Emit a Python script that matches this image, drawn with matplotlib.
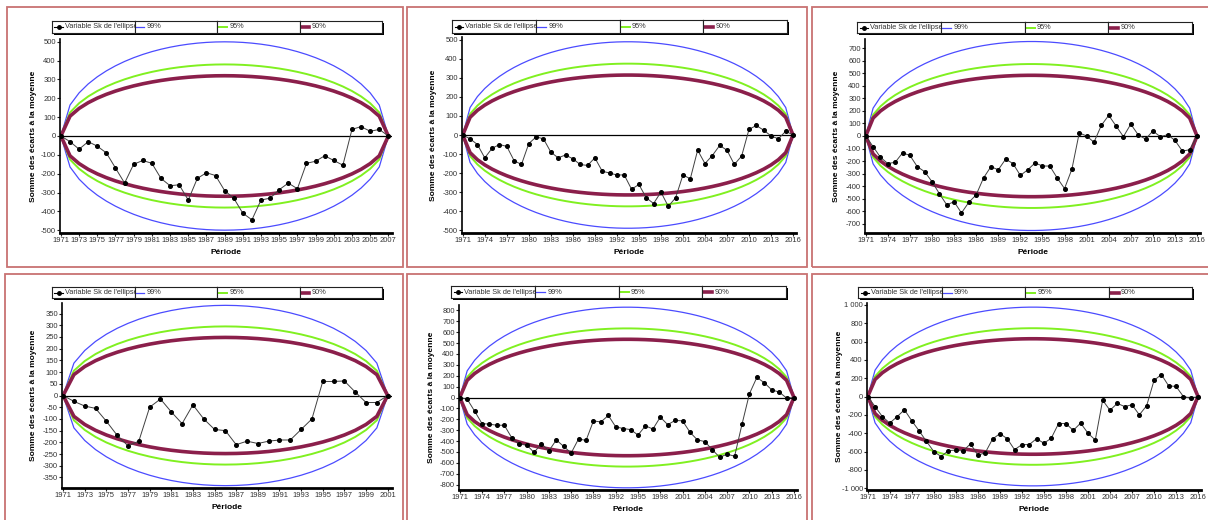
"""
Ellipses de Bois (somme des écarts à la moyenne) - 6 séries
"""
import numpy as np
import matplotlib.pyplot as plt
from matplotlib.patches import Rectangle
from matplotlib.lines import Line2D

plt.rcParams['font.family'] = ['Liberation Sans Narrow', 'Liberation Sans', 'DejaVu Sans']

W, H = 1208, 520

# ---------------- data ----------------
years_a = list(range(1971, 2008))
years_b = list(range(1971, 2017))
years_c = list(range(1971, 2002))

sk_1 = [0, -30, -70, -30, -54, -90, -170, -250, -150, -130, -145, -225, -264, -259, -340,
        -225, -195, -210, -290, -330, -410, -445, -340, -330, -285, -250, -280, -145, -134,
        -105, -130, -155, 35, 50, 25, 35, 0]
sk_2 = [0, -20, -50, -120, -70, -50, -60, -135, -155, -45, -10, -20, -90, -120, -105, -125,
        -155, -160, -120, -190, -200, -210, -210, -285, -260, -330, -360, -300, -375, -330,
        -210, -230, -80, -150, -108, -55, -80, -155, -110, 30, 50, 25, -5, -20, 20, 0]
sk_3 = [0, -85, -170, -220, -210, -135, -155, -245, -285, -365, -460, -550, -525, -615, -530,
        -470, -335, -245, -270, -185, -220, -315, -270, -215, -240, -240, -335, -420, -265,
        25, 0, -50, 85, 165, 80, -5, 95, 10, -25, 40, -5, 10, -35, -120, -110, 0]
sk_4 = [0, -25, -45, -55, -110, -170, -215, -195, -50, -15, -70, -120, -40, -100, -145, -150,
        -210, -195, -205, -195, -190, -190, -145, -100, 60, 60, 62, 15, -30, -30, 0]
sk_5 = [0, -15, -125, -240, -245, -255, -255, -370, -430, -435, -505, -425, -490, -390, -450,
        -510, -380, -395, -215, -225, -165, -270, -285, -295, -345, -260, -290, -180, -250,
        -210, -215, -320, -390, -405, -480, -550, -520, -540, -245, 35, 185, 135, 70, 50, -5, 0]
sk_6 = [0, -110, -220, -290, -220, -145, -265, -375, -490, -600, -655, -590, -585, -595, -515,
        -640, -615, -465, -405, -460, -580, -525, -525, -460, -510, -455, -295, -295, -370,
        -290, -400, -475, -40, -150, -75, -110, -90, -200, -100, 175, 240, 115, 110, 0, -20, 0]

# peak half-width of the ellipses: 99%, 95%, 90%
peaks_1 = [500, 380, 320]
peaks_2 = [490, 375, 315]
peaks_3 = [755, 575, 485]
peaks_4 = [385, 295, 248]
peaks_5 = [830, 635, 535]
peaks_6 = [975, 745, 630]

yticks_1 = list(range(-500, 501, 100))
yticks_3 = list(range(-700, 701, 100))
yticks_4 = list(range(-350, 351, 50))
yticks_5 = list(range(-800, 801, 100))
yticks_6 = list(range(-1000, 1001, 200))

level_labels = ['99%', '95%', '90%']
level_colors = ['#4b4bff', '#80f020', '#8b1f4b']
level_widths = [0.9, 1.4, 2.6]

BORDER = '#c87272'


def fr(x0, y0, x1, y1):
    """pixel box (top-left origin) -> figure fraction rect"""
    return [x0 / W, 1 - y1 / H, (x1 - x0) / W, (y1 - y0) / H]


def draw_legend(fig, box):
    x0, y0, x1, y1 = box
    # shadow
    fig.patches.append(Rectangle(((x0 + 2) / W, 1 - (y1 + 2) / H), (x1 - x0) / W, (y1 - y0) / H,
                                 transform=fig.transFigure, facecolor='black', edgecolor='none', zorder=1))
    w = (x1 - x0) / 4
    for i in range(4):
        cax = fig.add_axes(fr(x0 + i * w, y0, x0 + (i + 1) * w, y1))
        cax.set_zorder(5)
        cax.set_xlim(0, 1)
        cax.set_ylim(0, 1)
        cax.set_xticks([])
        cax.set_yticks([])
        for s in cax.spines.values():
            s.set_linewidth(0.8)
            s.set_color('#222222')
        if i == 0:
            cax.plot([0.03, 0.13], [0.5, 0.5], color='black', lw=0.8)
            cax.plot([0.08], [0.5], marker='o', ms=2.5, color='black')
            cax.text(0.16, 0.5, "Variable Sk de l'ellipse", fontsize=5.3, color='#333333',
                     va='center', ha='left', clip_on=True)
        else:
            j = i - 1
            cax.plot([0.02, 0.12], [0.5, 0.5], color=level_colors[j], lw=level_widths[j])
            cax.text(0.15, 0.5, level_labels[j], fontsize=5.3, color='#333333',
                     va='center', ha='left')


def draw_panel(fig, border, axbox, legbox, years, sk, peaks, yticks, ylim, xstep, ylab_off):
    bx0, by0, bx1, by1 = border
    fig.patches.append(Rectangle((bx0 / W, 1 - by1 / H), (bx1 - bx0) / W, (by1 - by0) / H,
                                 transform=fig.transFigure, fill=False, edgecolor=BORDER, lw=1.3))
    ax = fig.add_axes(fr(*axbox))
    yrs = np.array(years)
    n = len(years) - 1
    k = np.arange(n + 1)
    shape = np.sqrt(k * (n - k)) / (n / 2)
    for pk, c, lw in zip(peaks, level_colors, level_widths):
        ax.plot(yrs, pk * shape, color=c, lw=lw)
        ax.plot(yrs, -pk * shape, color=c, lw=lw)
    ax.axhline(0, color='black', lw=0.9, zorder=3)
    ax.plot(yrs, sk, color='#404040', lw=0.7, marker='o', ms=2.6,
            mfc='black', mec='black', zorder=4)

    ax.set_xlim(years[0] - 0.1, years[-1] + 0.4)
    ax.set_ylim(-ylim, ylim)
    ax.set_yticks(yticks)
    ax.set_yticklabels([f'{v:,}'.replace(',', ' ') for v in yticks])
    ax.set_xticks(years[::xstep])
    ax.set_xticklabels([str(y) for y in years[::xstep]])
    ax.tick_params(axis='both', labelsize=5.5, length=2, width=0.8, pad=1, colors='#222222',
                   labelcolor='#333333')
    ax.spines['top'].set_visible(False)
    ax.spines['right'].set_visible(False)
    ax.spines['left'].set_linewidth(1.2)
    ax.spines['bottom'].set_linewidth(2.0)
    ax.set_facecolor('white')

    axw = axbox[2] - axbox[0]
    axh = axbox[3] - axbox[1]
    ax.set_ylabel('Somme des écarts à la moyenne', fontsize=6, fontweight='bold')
    ax.yaxis.set_label_coords(-ylab_off / axw, 0.5)
    ax.set_xlabel('Période', fontsize=6, fontweight='bold')
    ax.xaxis.set_label_coords(0.5, -16 / axh)

    draw_legend(fig, legbox)
    return ax


fig = plt.figure(figsize=(W / 100, H / 100), dpi=100)

draw_panel(fig, (7, 7, 403, 267), (60, 39, 392, 233), (52, 21, 382, 33),
           years_a, sk_1, peaks_1, yticks_1, 515, 2, 23)
draw_panel(fig, (407, 7, 807, 267), (462, 37, 796, 233), (452, 20, 787, 33),
           years_b, sk_2, peaks_2, yticks_1, 515, 3, 25)
draw_panel(fig, (812, 7, 1215, 267), (865, 39, 1200, 233), (857, 22, 1192, 33),
           years_b, sk_3, peaks_3, yticks_3, 775, 3, 25)
draw_panel(fig, (5, 274, 403, 535), (62, 303, 392, 488), (52, 287, 382, 298),
           years_c, sk_4, peaks_4, yticks_4, 395, 2, 25)
draw_panel(fig, (407, 274, 807, 535), (459, 305, 797, 490), (451, 286, 786, 298),
           years_b, sk_5, peaks_5, yticks_5, 850, 3, 24)
draw_panel(fig, (812, 274, 1215, 535), (867, 303, 1201, 490), (858, 287, 1192, 298),
           years_b, sk_6, peaks_6, yticks_6, 1020, 3, 24)

plt.savefig('out.png', dpi=100)
print("saved out.png")
